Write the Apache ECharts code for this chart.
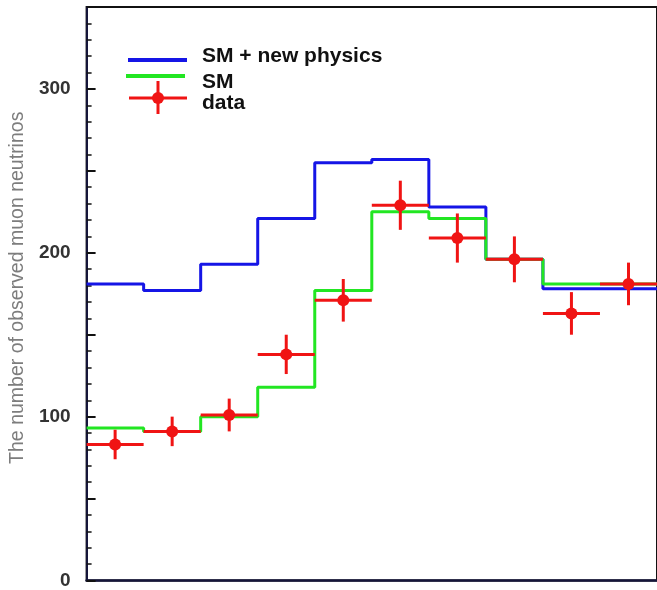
<!DOCTYPE html>
<html>
<head>
<meta charset="utf-8">
<script src="https://cdn.jsdelivr.net/npm/echarts@6/dist/echarts.min.js"></script>
<style>
html,body{margin:0;padding:0;background:#fff;}
#chart{width:657px;height:590px;}
</style>
</head>
<body>
<div id="chart"></div>
<script>
// Bin index (0..9), each bin spans [i, i+1]
const binCount = 10;
const smNewPhysics = [181, 177, 193, 221, 255, 257, 228, 196, 178, 178];
const smOnly = [93, 91, 100, 118, 177, 225, 221, 196, 181, 181];
const dataValues = [83, 91, 101, 138, 171, 229, 209, 196, 163, 181];
const dataErrors = [9, 9, 10, 12, 13, 15, 15, 14, 13, 13];
const yTickLabels = [0, 100, 200, 300];
const legendNames = ['SM + new physics', 'SM', 'data'];
const yAxisTitle = 'The number of observed muon neutrinos';

function stepData(vals) {
  const out = vals.map((v, i) => [i, v]);
  out.push([vals.length, vals[vals.length - 1]]);
  return out;
}

const chart = echarts.init(document.getElementById('chart'), null, {renderer: 'canvas'});

const option = {
  backgroundColor: '#ffffff',
  animation: false,
  grid: {
    left: 86, top: 7, bottom: 4, right: -5,
    show: true, borderColor: '#111111', borderWidth: 2, backgroundColor: 'transparent'
  },
  xAxis: {
    type: 'value', min: 0, max: binCount,
    axisLine: {show: true, onZero: false, lineStyle: {color: '#15153a', width: 2.5}},
    axisTick: {show: false},
    axisLabel: {show: false},
    splitLine: {show: false}
  },
  yAxis: {
    type: 'value', min: 0, max: 350, interval: 50,
    name: yAxisTitle,
    nameLocation: 'middle',
    nameGap: 57,
    nameTextStyle: {color: '#7d7d7d', fontSize: 19.5, fontFamily: 'Liberation Sans, Arial, sans-serif', padding: [0, 0, 0, 12]},
    axisLine: {show: true, lineStyle: {color: '#15153a', width: 2}},
    axisTick: {show: true, inside: true, length: 9, lineStyle: {color: '#111', width: 2}},
    minorTick: {show: true, splitNumber: 5, length: 5, lineStyle: {color: '#111', width: 1.5}},
    axisLabel: {
      margin: 16,
      color: '#333',
      fontSize: 19,
      fontWeight: 'bold',
      fontFamily: 'Liberation Sans, Arial, sans-serif',
      formatter: function (v) { return yTickLabels.indexOf(v) >= 0 ? String(v) : ''; }
    },
    splitLine: {show: false}
  },
  series: [
    {
      name: legendNames[0], type: 'line', step: 'end', symbol: 'none',
      data: stepData(smNewPhysics),
      lineStyle: {color: '#1515e6', width: 3}, z: 3
    },
    {
      name: legendNames[1], type: 'line', step: 'end', symbol: 'none',
      data: stepData(smOnly),
      lineStyle: {color: '#22e622', width: 3}, z: 4
    },
    {
      name: legendNames[2], type: 'custom',
      data: dataValues.map((v, i) => [i, v, dataErrors[i]]),
      encode: {x: 0, y: 1},
      z: 5,
      renderItem: function (params, api) {
        const i = api.value(0), v = api.value(1), e = api.value(2);
        const left = api.coord([i, v]);
        const right = api.coord([i + 1, v]);
        const c = api.coord([i + 0.5, v]);
        const lo = api.coord([i + 0.5, v - e]);
        const hi = api.coord([i + 0.5, v + e]);
        const style = {stroke: '#f01414', lineWidth: 3};
        return {
          type: 'group',
          children: [
            {type: 'line', shape: {x1: left[0], y1: left[1], x2: right[0], y2: right[1]}, style: style},
            {type: 'line', shape: {x1: c[0], y1: lo[1], x2: c[0], y2: hi[1]}, style: style},
            {type: 'circle', shape: {cx: c[0], cy: c[1], r: 6}, style: {fill: '#f01414'}}
          ]
        };
      }
    }
  ],
  graphic: [
    {type: 'line', shape: {x1: 128, y1: 60, x2: 187, y2: 60}, style: {stroke: '#1515e6', lineWidth: 4}},
    {type: 'line', shape: {x1: 126, y1: 76, x2: 185, y2: 76}, style: {stroke: '#22e622', lineWidth: 4}},
    {type: 'line', shape: {x1: 129, y1: 98, x2: 187, y2: 98}, style: {stroke: '#f01414', lineWidth: 3}},
    {type: 'line', shape: {x1: 158, y1: 81, x2: 158, y2: 114}, style: {stroke: '#f01414', lineWidth: 3}},
    {type: 'circle', shape: {cx: 158, cy: 98, r: 6}, style: {fill: '#f01414'}},
    {type: 'text', left: 202, top: 46, style: {text: legendNames[0], fill: '#111', font: 'bold 21px "Liberation Sans", Arial, sans-serif'}},
    {type: 'text', left: 202, top: 72, style: {text: legendNames[1], fill: '#111', font: 'bold 21px "Liberation Sans", Arial, sans-serif'}},
    {type: 'text', left: 202, top: 93, style: {text: legendNames[2], fill: '#111', font: 'bold 21px "Liberation Sans", Arial, sans-serif'}}
  ]
};
chart.setOption(option);
</script>
</body>
</html>
